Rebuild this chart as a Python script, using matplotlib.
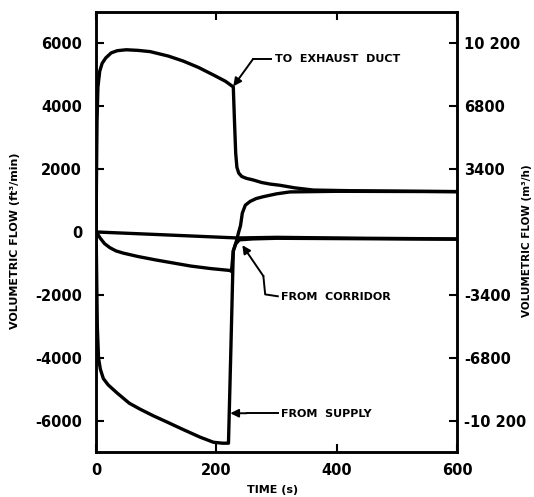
import matplotlib
matplotlib.use("Agg")
import matplotlib.pyplot as plt

# time (s) and volumetric flow (ft3/min)
exhaust_t = [0, 0.5, 1.5, 3, 6, 10, 16, 25, 35, 50, 70, 90, 120, 145, 170, 195, 215, 228,
             230, 232, 234, 237, 242, 250, 261, 275, 289, 306, 330, 361, 420, 600]
exhaust_v = [0, 1500, 3500, 4600, 5100, 5350, 5520, 5680, 5750, 5780, 5760, 5720, 5580, 5420, 5220, 4980, 4780, 4600,
             3500, 2500, 2050, 1870, 1760, 1700, 1650, 1570, 1520, 1480, 1400, 1330, 1310, 1280]

supply_t = [0, 1, 2, 4, 7, 12, 20, 35, 55, 73, 95, 118, 145, 173, 195, 210, 220, 224, 228,
            233, 237, 240, 243, 248, 256, 266, 278, 300, 322, 400, 600]
supply_v = [0, -1500, -3000, -4000, -4350, -4650, -4850, -5110, -5430, -5620, -5830, -6030, -6270, -6510, -6670, -6700, -6700, -3700, -600,
            -300, 0, 200, 600, 850, 970, 1060, 1120, 1210, 1270, 1290, 1280]

corridor_t = [0, 3, 7, 14, 23, 33, 45, 70, 100, 130, 157, 190, 222, 225, 228, 232, 238, 260, 300, 400, 600]
corridor_v = [0, -80, -200, -370, -500, -600, -670, -780, -890, -990, -1080, -1160, -1220, -1250, -600, -380, -250, -220, -200, -210, -230]

leak_t = [0, 100, 235, 300, 450, 600]
leak_v = [0, -80, -190, -170, -200, -220]

left_ticks = [-6000, -4000, -2000, 0, 2000, 4000, 6000]
right_ticks = [-10200, -6800, -3400, 3400, 6800, 10200]
right_labels = ["-10 200", "-6800", "-3400", "3400", "6800", "10 200"]
x_ticks = [0, 200, 400, 600]

plt.rcParams['font.family'] = 'DejaVu Sans'
plt.rcParams['font.weight'] = 'bold'
plt.rcParams['axes.unicode_minus'] = False

fig = plt.figure(figsize=(5.34, 4.97), dpi=100)
ax = fig.add_axes([0.180, 0.0905, 0.676, 0.8855])

lw = 2.4
for t, v in [(exhaust_t, exhaust_v), (supply_t, supply_v), (corridor_t, corridor_v), (leak_t, leak_v)]:
    ax.plot(t, v, color='black', lw=lw, solid_joinstyle='round', solid_capstyle='round')

ax.set_xlim(0, 600)
ax.set_ylim(-6980, 6980)
ax.set_xticks(x_ticks)
ax.set_xticklabels(["0", "200", "400", "600"])
ax.set_yticks(left_ticks)
ax.tick_params(axis='both', direction='in', length=6, width=1.5, labelsize=10.5)
ax.tick_params(axis='y', pad=10)
ax.tick_params(axis='x', pad=8, top=True)
for s in ax.spines.values():
    s.set_linewidth(1.8)

ax.set_xlabel("TIME (s)", fontsize=8, fontweight='bold')
ax.xaxis.set_label_coords(0.49, -0.075)
ax.set_ylabel("VOLUMETRIC FLOW (ft³/min)", fontsize=8, fontweight='bold')
ax.yaxis.set_label_coords(-0.21, 0.48)

ax2 = ax.twinx()
ax2.set_ylim(-6980 * 1.7, 6980 * 1.7)
ax2.set_yticks(right_ticks)
ax2.set_yticklabels(right_labels)
ax2.tick_params(axis='y', direction='in', length=6, width=1.5, labelsize=10.5, pad=5)
ax2.set_ylabel("VOLUMETRIC FLOW (m³/h)", fontsize=7.5, fontweight='bold', rotation=90)
ax2.yaxis.set_label_coords(1.18, 0.48)
for s in ax2.spines.values():
    s.set_linewidth(1.8)

arrow = dict(arrowstyle='-|>', color='black', lw=1.4, mutation_scale=12, shrinkA=0, shrinkB=0)
txt = dict(fontsize=8, fontweight='bold', va='center', ha='left')

# to exhaust duct
ax.plot([261, 290], [5490, 5490], color='black', lw=1.4)
ax.annotate("", xy=(228, 4620), xytext=(261, 5490), arrowprops=arrow)
ax.text(297, 5490, "TO  EXHAUST  DUCT", **txt)

# from corridor
ax.plot([278, 281, 302], [-1400, -1980, -2040], color='black', lw=1.4)
ax.annotate("", xy=(243, -420), xytext=(278, -1400), arrowprops=arrow)
ax.text(307, -2060, "FROM  CORRIDOR", **txt)

# from supply
ax.plot([250, 303], [-5750, -5750], color='black', lw=1.4)
ax.annotate("", xy=(223, -5750), xytext=(250, -5750), arrowprops=arrow)
ax.text(307, -5780, "FROM  SUPPLY", **txt)

fig.savefig("out.png", dpi=100)
